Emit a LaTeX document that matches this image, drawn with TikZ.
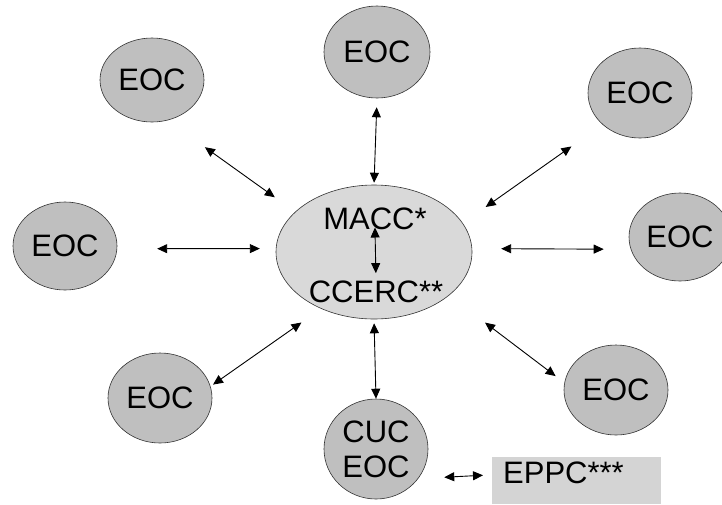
\documentclass[tikz,border=0pt]{standalone}
\usepackage{fontspec}
\setmainfont{Liberation Sans}
\usetikzlibrary{shapes.geometric,arrows.meta,positioning}

\begin{document}
\begin{tikzpicture}[x=1pt, y=-1pt,
>={Triangle[length=10pt, width=9pt]},
eoc/.style={ellipse, draw=black!80, fill=black!25, line width=0.6pt, inner sep=0pt,
  minimum width=104pt, minimum height=90pt, font=\fontsize{31}{35}\selectfont},
hub/.style={ellipse, draw=black!80, fill=black!15, line width=0.6pt, inner sep=0pt,
  minimum width=196pt, minimum height=134pt},
lbl/.style={inner sep=0pt, font=\fontsize{31}{35}\selectfont},
eppc/.style={rectangle, fill=black!17, inner xsep=11pt, inner ysep=0pt, text width=147pt,
  align=left, text height=26pt, text depth=21pt, font=\fontsize{31}{35}\selectfont},
link/.style={<->, line width=0.9pt}
]
\useasboundingbox (0,0) rectangle (722,504);
%Nodes
\node[hub]   (macc) at (374,252)                         {};
\node[lbl, anchor=base]  (maccl) at (375,229)            {MACC*};
\node[lbl, anchor=base]  (ccerc) at (376,302)            {CCERC**};
\node[eoc, minimum width=106pt, minimum height=92pt] (t)  at (377,52)  {EOC};
\node[eoc, minimum height=84pt]                      (tl) at (152,80)  {EOC};
\node[eoc]                                           (tr) at (640,93)  {EOC};
\node[eoc, minimum height=88pt]                      (l)  at (65,246)  {EOC};
\node[eoc, minimum width=102pt, minimum height=88pt] (r)  at (680,237) {EOC};
\node[eoc]                                           (bl) at (160,398) {EOC};
\node[eoc]                                           (br) at (616,390) {EOC};
\node[eoc, minimum height=100pt, align=center]       (cuc) at (376,449) {CUC\\EOC};
\node[eppc, anchor=north west] (eppcbox) at (492,457) {EPPC***};
%Lines
\draw[link, shorten <=-2pt, shorten >=7pt] (maccl.south) -- (ccerc.north);
\draw[link, shorten <=9pt, shorten >=2pt] (t.south) -- (macc.north);
\draw[link, shorten <=46pt, shorten >=25pt] (tl.-69) -- (macc.153);
\draw[link, shorten <=38pt, shorten >=28pt] (tr.-140) -- (macc.18);
\draw[link, shorten <=40pt, shorten >=16pt] (l.-3) -- (macc.178);
\draw[link, shorten <=29pt, shorten >=27pt] (macc.2) -- (r.194);
\draw[link, shorten <=3pt, shorten >=24pt] (bl.13) -- (macc.-133);
\draw[link, shorten <=45pt, shorten >=11pt] (macc.-30) -- (br.172);
\draw[link, shorten <=4pt, shorten >=0pt] (macc.south) -- (cuc.north);
\draw[link, shorten <=26pt, shorten >=9pt] (cuc.-35) -- (eppcbox.176);
\end{tikzpicture}
\end{document}
